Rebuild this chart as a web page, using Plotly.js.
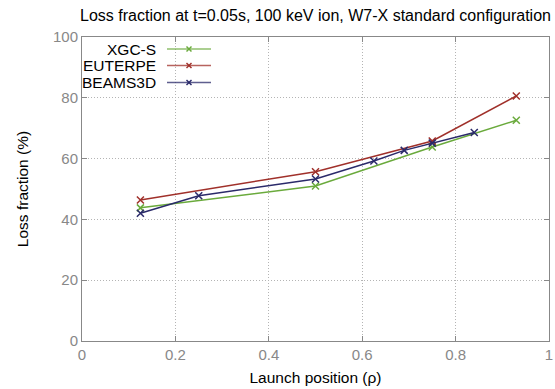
<!DOCTYPE html>
<html>
<head>
<meta charset="utf-8">
<script src="https://cdn.plot.ly/plotly-3.0.1.min.js"></script>
<style>html,body{margin:0;padding:0;background:#fff}#chart{width:555px;height:389px}</style>
</head>
<body>
<div id="chart"></div>
<script>
// ---- data ----
const seriesNames = ["XGC-S", "EUTERPE", "BEAMS3D"];
const xgcX = [0.125, 0.5, 0.75, 0.93];
const xgcY = [43.8, 51.0, 63.8, 72.6];
const euterpeX = [0.125, 0.5, 0.75, 0.93];
const euterpeY = [46.4, 55.7, 65.8, 80.6];
const beamsX = [0.125, 0.25, 0.5, 0.625, 0.69, 0.75, 0.84];
const beamsY = [42.0, 47.8, 53.3, 59.2, 62.7, 65.1, 68.6];
const xTicks = [0, 0.2, 0.4, 0.6, 0.8, 1];
const yTicks = [0, 20, 40, 60, 80, 100];

const colors = ["#6aaa3c", "#a0302a", "#2a2a6a"];
const FONT = "Liberation Sans, Arial, Helvetica, sans-serif";

function tr(x, y, i) {
  return {
    x: x, y: y, name: seriesNames[i], type: "scatter", mode: "lines+markers",
    line: {color: colors[i], width: 1.5},
    marker: {symbol: "x-thin", size: 7, line: {color: colors[i], width: 1.5}},
    showlegend: false, cliponaxis: false
  };
}
const data = [tr(xgcX, xgcY, 0), tr(euterpeX, euterpeY, 1), tr(beamsX, beamsY, 2)];

// custom legend (gnuplot style: text right, sample to the right)
const L = 82, R = 549, T = 37, B = 341;
const W = 555, H = 389;
const px = v => (v - L) / (R - L);
const py = v => (B - v) / (B - T);
const legY = [49, 65.5, 82.5];
const annotations = [], shapes = [];
seriesNames.forEach((n, i) => {
  annotations.push({
    xref: "paper", yref: "paper", x: px(157), y: py(legY[i]),
    xanchor: "right", yanchor: "middle", text: n, showarrow: false,
    borderpad: 0,
    font: {family: FONT, size: 15.5, color: "#000"}
  });
  shapes.push({type: "line", xref: "paper", yref: "paper",
    x0: px(167), x1: px(211), y0: py(legY[i]), y1: py(legY[i]),
    line: {color: colors[i], width: 1.5}, opacity: 0.75});
  const c = 189, d = 2.5;
  shapes.push({type: "line", xref: "paper", yref: "paper",
    x0: px(c - d), x1: px(c + d), y0: py(legY[i] - d), y1: py(legY[i] + d),
    line: {color: colors[i], width: 1.5}});
  shapes.push({type: "line", xref: "paper", yref: "paper",
    x0: px(c - d), x1: px(c + d), y0: py(legY[i] + d), y1: py(legY[i] - d),
    line: {color: colors[i], width: 1.5}});
});

const axisCommon = {
  showline: true, mirror: "ticks", linecolor: "#888", linewidth: 1,
  ticks: "inside", ticklen: 5, tickcolor: "#888", tickwidth: 1,
  showgrid: true, gridcolor: "#b4b4b4", griddash: "1px,2px", gridwidth: 1,
  zeroline: false, tickfont: {family: FONT, size: 15, color: "#888"}
};

const layout = {
  width: W, height: H,
  margin: {l: L, r: W - R, t: T, b: H - B},
  paper_bgcolor: "#fff", plot_bgcolor: "#fff",
  font: {family: FONT},
  title: {text: "Loss fraction at t=0.05s, 100 keV ion, W7-X standard configuration",
          x: 0.5, xref: "paper", xanchor: "center", y: 1 - 15 / H, yanchor: "middle",
          font: {family: FONT, size: 16, color: "#000"}},
  xaxis: Object.assign({}, axisCommon, {
    range: [0, 1], tickvals: xTicks, ticktext: xTicks.map(String),
    title: {text: "Launch position (ρ)", standoff: 10, font: {family: FONT, size: 15.5, color: "#000"}}
  }),
  yaxis: Object.assign({}, axisCommon, {
    range: [0, 100], tickvals: yTicks, ticktext: yTicks.map(String),
    title: {text: "Loss fraction (%)", standoff: 20, font: {family: FONT, size: 15.5, color: "#000"}}
  }),
  annotations: annotations, shapes: shapes
};

Plotly.newPlot("chart", data, layout, {staticPlot: true, displayModeBar: false});
</script>
</body>
</html>
